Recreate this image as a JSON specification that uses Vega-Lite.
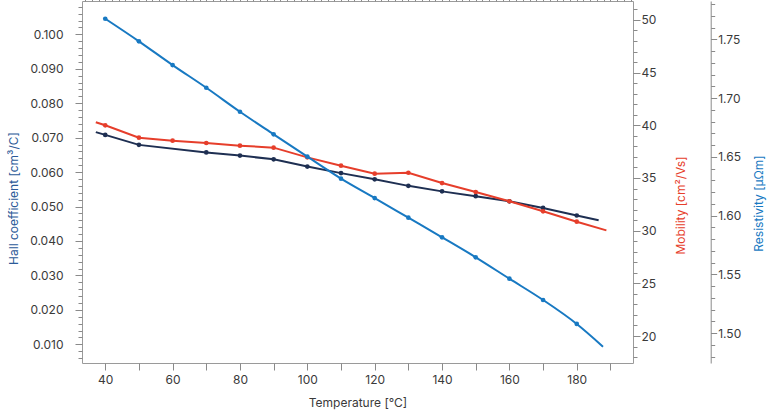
{
  "$schema": "https://vega.github.io/schema/vega-lite/v6.json",
  "width": 551,
  "height": 362,
  "autosize": {"type": "none"},
  "padding": {"left": 82, "top": 1, "right": 135, "bottom": 47},
  "background": "white",
  "data": {
    "values": [
      {"temperature": 37.2, "series": "Hall coefficient", "value": 0.0716, "measured": false},
      {"temperature": 40, "series": "Hall coefficient", "value": 0.0708, "measured": true},
      {"temperature": 50, "series": "Hall coefficient", "value": 0.0679, "measured": true},
      {"temperature": 70, "series": "Hall coefficient", "value": 0.0657, "measured": true},
      {"temperature": 80, "series": "Hall coefficient", "value": 0.0648, "measured": true},
      {"temperature": 90, "series": "Hall coefficient", "value": 0.0637, "measured": true},
      {"temperature": 100, "series": "Hall coefficient", "value": 0.0616, "measured": true},
      {"temperature": 110, "series": "Hall coefficient", "value": 0.0597, "measured": true},
      {"temperature": 120, "series": "Hall coefficient", "value": 0.0579, "measured": true},
      {"temperature": 130, "series": "Hall coefficient", "value": 0.0560, "measured": true},
      {"temperature": 140, "series": "Hall coefficient", "value": 0.0544, "measured": true},
      {"temperature": 150, "series": "Hall coefficient", "value": 0.0530, "measured": true},
      {"temperature": 160, "series": "Hall coefficient", "value": 0.0515, "measured": true},
      {"temperature": 170, "series": "Hall coefficient", "value": 0.0496, "measured": true},
      {"temperature": 180, "series": "Hall coefficient", "value": 0.0474, "measured": true},
      {"temperature": 186.5, "series": "Hall coefficient", "value": 0.0460, "measured": false},

      {"temperature": 37.2, "series": "Mobility", "value": 40.29, "measured": false},
      {"temperature": 40, "series": "Mobility", "value": 40.0, "measured": true},
      {"temperature": 50, "series": "Mobility", "value": 38.83, "measured": true},
      {"temperature": 60, "series": "Mobility", "value": 38.54, "measured": true},
      {"temperature": 70, "series": "Mobility", "value": 38.32, "measured": true},
      {"temperature": 80, "series": "Mobility", "value": 38.07, "measured": true},
      {"temperature": 90, "series": "Mobility", "value": 37.88, "measured": true},
      {"temperature": 100, "series": "Mobility", "value": 36.96, "measured": true},
      {"temperature": 110, "series": "Mobility", "value": 36.17, "measured": true},
      {"temperature": 120, "series": "Mobility", "value": 35.41, "measured": true},
      {"temperature": 130, "series": "Mobility", "value": 35.50, "measured": true},
      {"temperature": 140, "series": "Mobility", "value": 34.52, "measured": true},
      {"temperature": 150, "series": "Mobility", "value": 33.67, "measured": true},
      {"temperature": 160, "series": "Mobility", "value": 32.79, "measured": true},
      {"temperature": 170, "series": "Mobility", "value": 31.84, "measured": true},
      {"temperature": 180, "series": "Mobility", "value": 30.85, "measured": true},
      {"temperature": 188.8, "series": "Mobility", "value": 30.03, "measured": false},

      {"temperature": 40, "series": "Resistivity", "value": 1.7675, "measured": true},
      {"temperature": 50, "series": "Resistivity", "value": 1.7483, "measured": true},
      {"temperature": 60, "series": "Resistivity", "value": 1.7281, "measured": true},
      {"temperature": 70, "series": "Resistivity", "value": 1.7088, "measured": true},
      {"temperature": 80, "series": "Resistivity", "value": 1.6884, "measured": true},
      {"temperature": 90, "series": "Resistivity", "value": 1.6692, "measured": true},
      {"temperature": 100, "series": "Resistivity", "value": 1.6502, "measured": true},
      {"temperature": 110, "series": "Resistivity", "value": 1.6315, "measured": true},
      {"temperature": 120, "series": "Resistivity", "value": 1.6150, "measured": true},
      {"temperature": 130, "series": "Resistivity", "value": 1.5983, "measured": true},
      {"temperature": 140, "series": "Resistivity", "value": 1.5816, "measured": true},
      {"temperature": 150, "series": "Resistivity", "value": 1.5646, "measured": true},
      {"temperature": 160, "series": "Resistivity", "value": 1.5464, "measured": true},
      {"temperature": 170, "series": "Resistivity", "value": 1.5283, "measured": true},
      {"temperature": 180, "series": "Resistivity", "value": 1.5079, "measured": true},
      {"temperature": 187.8, "series": "Resistivity", "value": 1.4886, "measured": false}
    ]
  },
  "layer": [
    {
      "transform": [{"filter": "datum.series == 'Hall coefficient'"}],
      "mark": {"type": "line", "color": "#1e2f52", "strokeWidth": 2},
      "encoding": {
        "x": {
          "field": "temperature", "type": "quantitative",
          "scale": {"domain": [33.1, 196.7], "nice": false, "zero": false},
          "axis": {
            "title": "Temperature [°C]",
            "values": [40, 50, 60, 70, 80, 90, 100, 110, 120, 130, 140, 150, 160, 170, 180, 190],
            "labelExpr": "datum.value % 20 == 0 ? datum.label : ''",
            "tickSize": 7, "labelPadding": 4,
            "titleY": 39, "titleBaseline": "middle"
          }
        },
        "y": {
          "field": "value", "type": "quantitative",
          "scale": {"domain": [0.00457, 0.10967], "nice": false, "zero": false},
          "axis": {
            "orient": "left",
            "title": "Hall coefficient [cm³/C]",
            "titleColor": "#2c5a98",
            "values": [0.01, 0.02, 0.03, 0.04, 0.05, 0.06, 0.07, 0.08, 0.09, 0.1],
            "format": ".3f",
            "tickSize": 7, "labelPadding": 12,
            "titleAngle": 270, "titleAlign": "center", "titleBaseline": "middle",
            "titleX": -69, "titleY": 197
          }
        }
      }
    },
    {
      "transform": [{"filter": "datum.series == 'Hall coefficient' && datum.measured"}],
      "mark": {"type": "point", "filled": true, "opacity": 1, "color": "#1e2f52", "size": 22},
      "encoding": {
        "x": {
          "field": "temperature", "type": "quantitative",
          "scale": {"domain": [33.1, 196.7], "nice": false, "zero": false},
          "axis": {
            "title": null, "labels": false, "tickSize": 4,
            "values": [34, 36, 38, 40, 42, 44, 46, 48, 50, 52, 54, 56, 58, 60, 62, 64, 66, 68, 70, 72, 74, 76, 78, 80, 82, 84, 86, 88, 90, 92, 94, 96, 98, 100, 102, 104, 106, 108, 110, 112, 114, 116, 118, 120, 122, 124, 126, 128, 130, 132, 134, 136, 138, 140, 142, 144, 146, 148, 150, 152, 154, 156, 158, 160, 162, 164, 166, 168, 170, 172, 174, 176, 178, 180, 182, 184, 186, 188, 190, 192, 194, 196]
          }
        },
        "y": {
          "field": "value", "type": "quantitative",
          "scale": {"domain": [0.00457, 0.10967], "nice": false, "zero": false},
          "axis": {
            "orient": "left", "title": null, "labels": false, "tickSize": 4,
            "values": [0.006, 0.008, 0.010, 0.012, 0.014, 0.016, 0.018, 0.020, 0.022, 0.024, 0.026, 0.028, 0.030, 0.032, 0.034, 0.036, 0.038, 0.040, 0.042, 0.044, 0.046, 0.048, 0.050, 0.052, 0.054, 0.056, 0.058, 0.060, 0.062, 0.064, 0.066, 0.068, 0.070, 0.072, 0.074, 0.076, 0.078, 0.080, 0.082, 0.084, 0.086, 0.088, 0.090, 0.092, 0.094, 0.096, 0.098, 0.100, 0.102, 0.104, 0.106, 0.108]
          }
        }
      }
    },
    {
      "transform": [{"filter": "datum.series == 'Mobility'"}],
      "mark": {"type": "line", "color": "#e63e2b", "strokeWidth": 2},
      "encoding": {
        "x": {"field": "temperature", "type": "quantitative", "axis": null},
        "y": {
          "field": "value", "type": "quantitative",
          "scale": {"domain": [17.44, 51.8], "nice": false, "zero": false},
          "axis": {
            "orient": "right",
            "title": "Mobility [cm²/Vs]",
            "titleColor": "#e63e2b",
            "values": [20, 25, 30, 35, 40, 45, 50],
            "tickSize": 7, "labelPadding": 1,
            "titleAngle": 270, "titleAlign": "center", "titleBaseline": "middle",
            "titleX": 47, "titleY": 204
          }
        }
      }
    },
    {
      "transform": [{"filter": "datum.series == 'Mobility' && datum.measured"}],
      "mark": {"type": "point", "filled": true, "opacity": 1, "color": "#e63e2b", "size": 22},
      "encoding": {
        "x": {"field": "temperature", "type": "quantitative", "axis": null},
        "y": {
          "field": "value", "type": "quantitative",
          "scale": {"domain": [17.44, 51.8], "nice": false, "zero": false},
          "axis": {
            "orient": "right", "title": null, "labels": false, "tickSize": 4,
            "values": [18, 19, 20, 21, 22, 23, 24, 25, 26, 27, 28, 29, 30, 31, 32, 33, 34, 35, 36, 37, 38, 39, 40, 41, 42, 43, 44, 45, 46, 47, 48, 49, 50, 51]
          }
        }
      }
    },
    {
      "transform": [{"filter": "datum.series == 'Resistivity'"}],
      "mark": {"type": "line", "color": "#1879c2", "strokeWidth": 2, "interpolate": "monotone"},
      "encoding": {
        "x": {"field": "temperature", "type": "quantitative", "axis": null},
        "y": {
          "field": "value", "type": "quantitative",
          "scale": {"domain": [1.4747, 1.7826], "nice": false, "zero": false},
          "axis": {
            "orient": "right", "offset": 77.7, "domain": true,
            "title": "Resistivity [µΩm]",
            "titleColor": "#1879c2",
            "values": [1.5, 1.55, 1.6, 1.65, 1.7, 1.75],
            "format": ".2f",
            "tickSize": 6, "labelPadding": 1,
            "titleAngle": 270, "titleAlign": "center", "titleBaseline": "middle",
            "titleX": 48, "titleY": 202
          }
        }
      }
    },
    {
      "transform": [{"filter": "datum.series == 'Resistivity' && datum.measured"}],
      "mark": {"type": "point", "filled": true, "opacity": 1, "color": "#1879c2", "size": 22},
      "encoding": {
        "x": {"field": "temperature", "type": "quantitative", "axis": null},
        "y": {
          "field": "value", "type": "quantitative",
          "scale": {"domain": [1.4747, 1.7826], "nice": false, "zero": false},
          "axis": {
            "orient": "right", "offset": 77.7, "title": null, "labels": false, "tickSize": 4,
            "values": [1.48, 1.49, 1.5, 1.51, 1.52, 1.53, 1.54, 1.55, 1.56, 1.57, 1.58, 1.59, 1.6, 1.61, 1.62, 1.63, 1.64, 1.65, 1.66, 1.67, 1.68, 1.69, 1.7, 1.71, 1.72, 1.73, 1.74, 1.75, 1.76, 1.77, 1.78]
          }
        }
      }
    }
  ],
  "resolve": {"scale": {"y": "independent"}, "axis": {"x": "independent", "y": "independent"}},
  "config": {
    "view": {"stroke": "#9a9a9a", "strokeWidth": 1},
    "axis": {
      "grid": false,
      "domain": false,
      "domainColor": "#8a8a8a",
      "tickColor": "#8a8a8a",
      "labelFont": "Inter",
      "labelFontSize": 12,
      "labelColor": "#3a3a3a",
      "titleFont": "Inter",
      "titleFontSize": 12,
      "titleFontWeight": "normal",
      "titleColor": "#3a3a3a"
    }
  }
}
